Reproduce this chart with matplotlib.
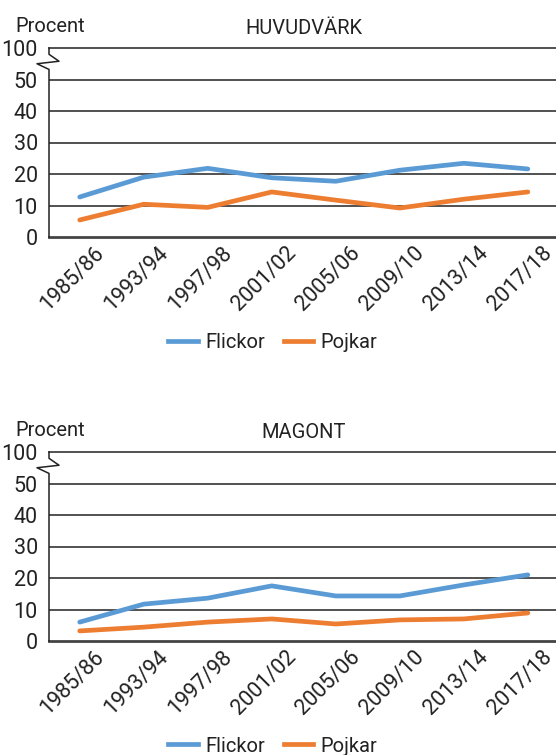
import matplotlib
matplotlib.use("Agg")
import matplotlib.pyplot as plt
from matplotlib.lines import Line2D
from matplotlib.transforms import ScaledTranslation

plt.rcParams['font.family'] = ['Roboto', 'DejaVu Sans']

periods = ["1985/86", "1993/94", "1997/98", "2001/02", "2005/06", "2009/10", "2013/14", "2017/18"]
huvud_flickor = [12.7, 19.0, 21.8, 18.8, 17.7, 21.2, 23.4, 21.6]
huvud_pojkar = [5.4, 10.4, 9.4, 14.3, 11.7, 9.2, 12.0, 14.3]
mag_flickor = [6.0, 11.7, 13.6, 17.5, 14.3, 14.3, 17.8, 21.0]
mag_pojkar = [3.2, 4.4, 6.0, 7.0, 5.4, 6.7, 7.0, 8.9]
ytick_vals = [0, 10, 20, 30, 40, 50, 60]
ytick_labels = ["0", "10", "20", "30", "40", "50", "100"]
titles = ["HUVUDVÄRK", "MAGONT"]

BLUE = "#5B9BD5"
ORANGE = "#ED7D31"
TXT = "#222222"
W, H = 556, 755

fig = plt.figure(figsize=(W / 100, H / 100), dpi=100)

def fx(px):
    return px / W

def fy(py):
    return 1 - py / H

panels = [
    (titles[0], huvud_flickor, huvud_pojkar, 48, 237, 343),
    (titles[1], mag_flickor, mag_pojkar, 452, 641, 746),
]

x = list(range(len(periods)))
for title, fl, pj, top_px, bot_px, leg_px in panels:
    ax = fig.add_axes([fx(49), fy(bot_px), fx(556 - 49), (bot_px - top_px) / H])
    ax.set_xlim(-0.48, 7.44)
    ax.set_ylim(0, 60)
    for v in [10, 20, 30, 40, 50]:
        ax.axhline(v, color=TXT, lw=1.1, zorder=1)
    ax.plot(x, fl, color=BLUE, lw=3.4, solid_capstyle='round', solid_joinstyle='round', zorder=3, label="Flickor")
    ax.plot(x, pj, color=ORANGE, lw=3.4, solid_capstyle='round', solid_joinstyle='round', zorder=3, label="Pojkar")
    for s in ['right', 'left']:
        ax.spines[s].set_visible(False)
    ax.spines['top'].set_color(TXT)
    ax.spines['top'].set_linewidth(1.1)
    ax.spines['bottom'].set_color("#444444")
    ax.spines['bottom'].set_linewidth(2.0)
    # left axis with break
    dx = 1 / (556 - 49)
    xs = [0, 0, 10 * dx, -12 * dx, 0, 0]
    ys = [60, 58.0, 55.8, 55.0, 53.2, 0]
    ax.add_line(Line2D(xs, ys, transform=ax.get_yaxis_transform(), color=TXT, lw=1.1, clip_on=False, zorder=4))
    ax.set_yticks(ytick_vals)
    ax.set_yticklabels(ytick_labels)
    ax.set_xticks(x)
    ax.set_xticklabels(periods, rotation=45, ha='right', va='top', rotation_mode='anchor')
    ax.tick_params(axis='both', length=0, labelsize=15.5, colors=TXT)
    ax.tick_params(axis='y', pad=8)
    ax.tick_params(axis='x', pad=4)
    off = ScaledTranslation(14 / 100, 0, fig.dpi_scale_trans)
    for lab in ax.get_xticklabels():
        lab.set_transform(lab.get_transform() + off)
    fig.text(fx(15), fy(top_px - 16), "Procent", fontsize=14.5, color=TXT, va='baseline', ha='left')
    fig.text(fx(304), fy(top_px - 14), title, fontsize=14.5, color=TXT, va='baseline', ha='center')
    handles = [Line2D([], [], color=BLUE, lw=3.4), Line2D([], [], color=ORANGE, lw=3.4)]
    fig.legend(handles, ["Flickor", "Pojkar"], loc='center', bbox_to_anchor=(fx(273), fy(leg_px)),
               ncol=2, frameon=False, fontsize=14.5, handlelength=1.45, handletextpad=0.4, columnspacing=0.9,
               labelcolor=TXT)

fig.savefig("out.png", dpi=100)
